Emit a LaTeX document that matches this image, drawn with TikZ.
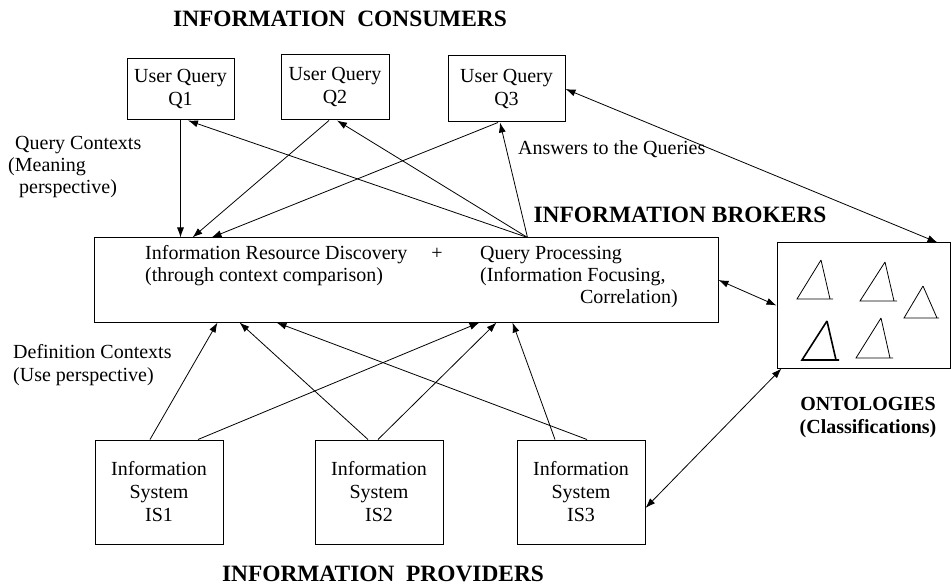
\documentclass[tikz,border=0pt]{standalone}
\usepackage{fontspec}
\setmainfont{Liberation Serif}
\usetikzlibrary{arrows.meta}
\tikzset{>={Latex[length=10pt,width=7pt]}}
\tikzset{
  box/.style = {draw, line width=1pt, inner sep=0pt, align=center},
  title/.style = {font=\fontsize{23.4}{27}\selectfont\bfseries, anchor=base, inner sep=0pt},
  txt/.style = {anchor=base west, inner sep=0pt},
  link/.style = {->, line width=0.8pt}
}

\begin{document}
\begin{tikzpicture}[x=1pt,y=-1pt,font=\fontsize{20}{23}\selectfont]
  \useasboundingbox (0,0) rectangle (951,588);
  % consumers
  \node[box,minimum width=107pt,minimum height=61pt] (q1) at (180.5,89.5) {User Query\\Q1};
  \node[box,minimum width=108pt,minimum height=65pt] (q2) at (335,87.5) {User Query\\Q2};
  \node[box,minimum width=117pt,minimum height=66pt] (q3) at (506.5,89) {User Query\\Q3};
  % brokers
  \node[box,minimum width=624pt,minimum height=84pt] (broker) at (406,280) {};
  \node[txt] (ird) at (145,260) {Information Resource Discovery};
  \node[anchor=base,inner sep=0pt] (plus) at (437,260) {+};
  \node[txt] (qp) at (480,260) {Query Processing};
  \node[txt] (ird2) at (145,282) {(through context comparison)};
  \node[txt] (qp2) at (480,282) {(Information Focusing,};
  \node[anchor=base east,inner sep=0pt] (qp3) at (678,304) {Correlation)};
  % ontologies
  \node[box,minimum width=173pt,minimum height=125pt] (onto) at (863.5,305.5) {};
  \foreach \ax/\ay/\lx/\rx/\fx/\by in {821/260/797/833/830/299, 885/262/860/897/894/301,
      923/286/904/939/937/318, 881/318/856/893/890/358}
    \draw[line width=0.8pt] (\ax,\ay) -- (\lx,\by) -- (\rx,\by) (\ax,\ay) -- (\fx,\by);
  \draw[line width=1.6pt] (827,321) -- (802,360) -- (839,360) (827,321) -- (836,360);
  % providers
  \node[box,minimum width=128pt,minimum height=104pt] (is1) at (159,492) {Information\\System\\IS1};
  \node[box,minimum width=128pt,minimum height=104pt] (is2) at (379,492) {Information\\System\\IS2};
  \node[box,minimum width=128pt,minimum height=104pt] (is3) at (581,492) {Information\\System\\IS3};

  % titles and labels
  \node[title] (consumers) at (340,27) {INFORMATION\ \ CONSUMERS};
  \node[title] (brokers) at (680,223) {INFORMATION BROKERS};
  \node[title] (providers) at (383,581) {INFORMATION\ \ PROVIDERS};
  \node[anchor=base,inner sep=0pt,font=\fontsize{20}{23}\selectfont\bfseries] (ontot) at (868,410) {ONTOLOGIES};
  \node[anchor=base,inner sep=0pt,font=\fontsize{20}{23}\selectfont\bfseries] (class) at (868,433) {(Classifications)};
  \node[txt] (qc1) at (15,150) {Query Contexts};
  \node[txt] (qc2) at (8,172) {(Meaning};
  \node[txt] (qc3) at (19,194) {perspective)};
  \node[txt] (ans) at (518,155) {Answers to the Queries};
  \node[txt] (dc1) at (13,358) {Definition Contexts};
  \node[txt] (dc2) at (13,381) {(Use perspective)};

  % queries down to the brokers
  \draw[link] (q1.south) -- (q1.south |- broker.north);
  \draw[link] ([xshift=-6pt]q2.south) -- ([xshift=99pt]broker.north west);
  \draw[link] ([xshift=-8.5pt]q3.south) -- ([xshift=118pt]broker.north west);
  % answers back up
  \foreach \tgt/\dx in {q1/7.5, q2/2, q3/-6.5}
    \draw[link] ([xshift=434pt]broker.north west) -- ([xshift=\dx pt]\tgt.south);
  % sources up to the brokers
  \foreach \src/\dx/\bx in {is1/-9/124, is1/39/386, is2/-11/146, is2/-1/403, is3/-26/419, is3/6/183}
    \draw[link] ([xshift=\dx pt]\src.north) -- ([xshift=\bx pt]broker.south west);
  % ontologies
  \draw[<->,line width=0.8pt] (broker.east) -- (onto.west);
  \draw[<->,line width=0.8pt] (q3.east) -- ([xshift=-13pt]onto.north east);
  \draw[<->,line width=0.8pt] ([xshift=5pt]onto.south west) -- ([yshift=-16pt]is3.east);
\end{tikzpicture}
\end{document}
